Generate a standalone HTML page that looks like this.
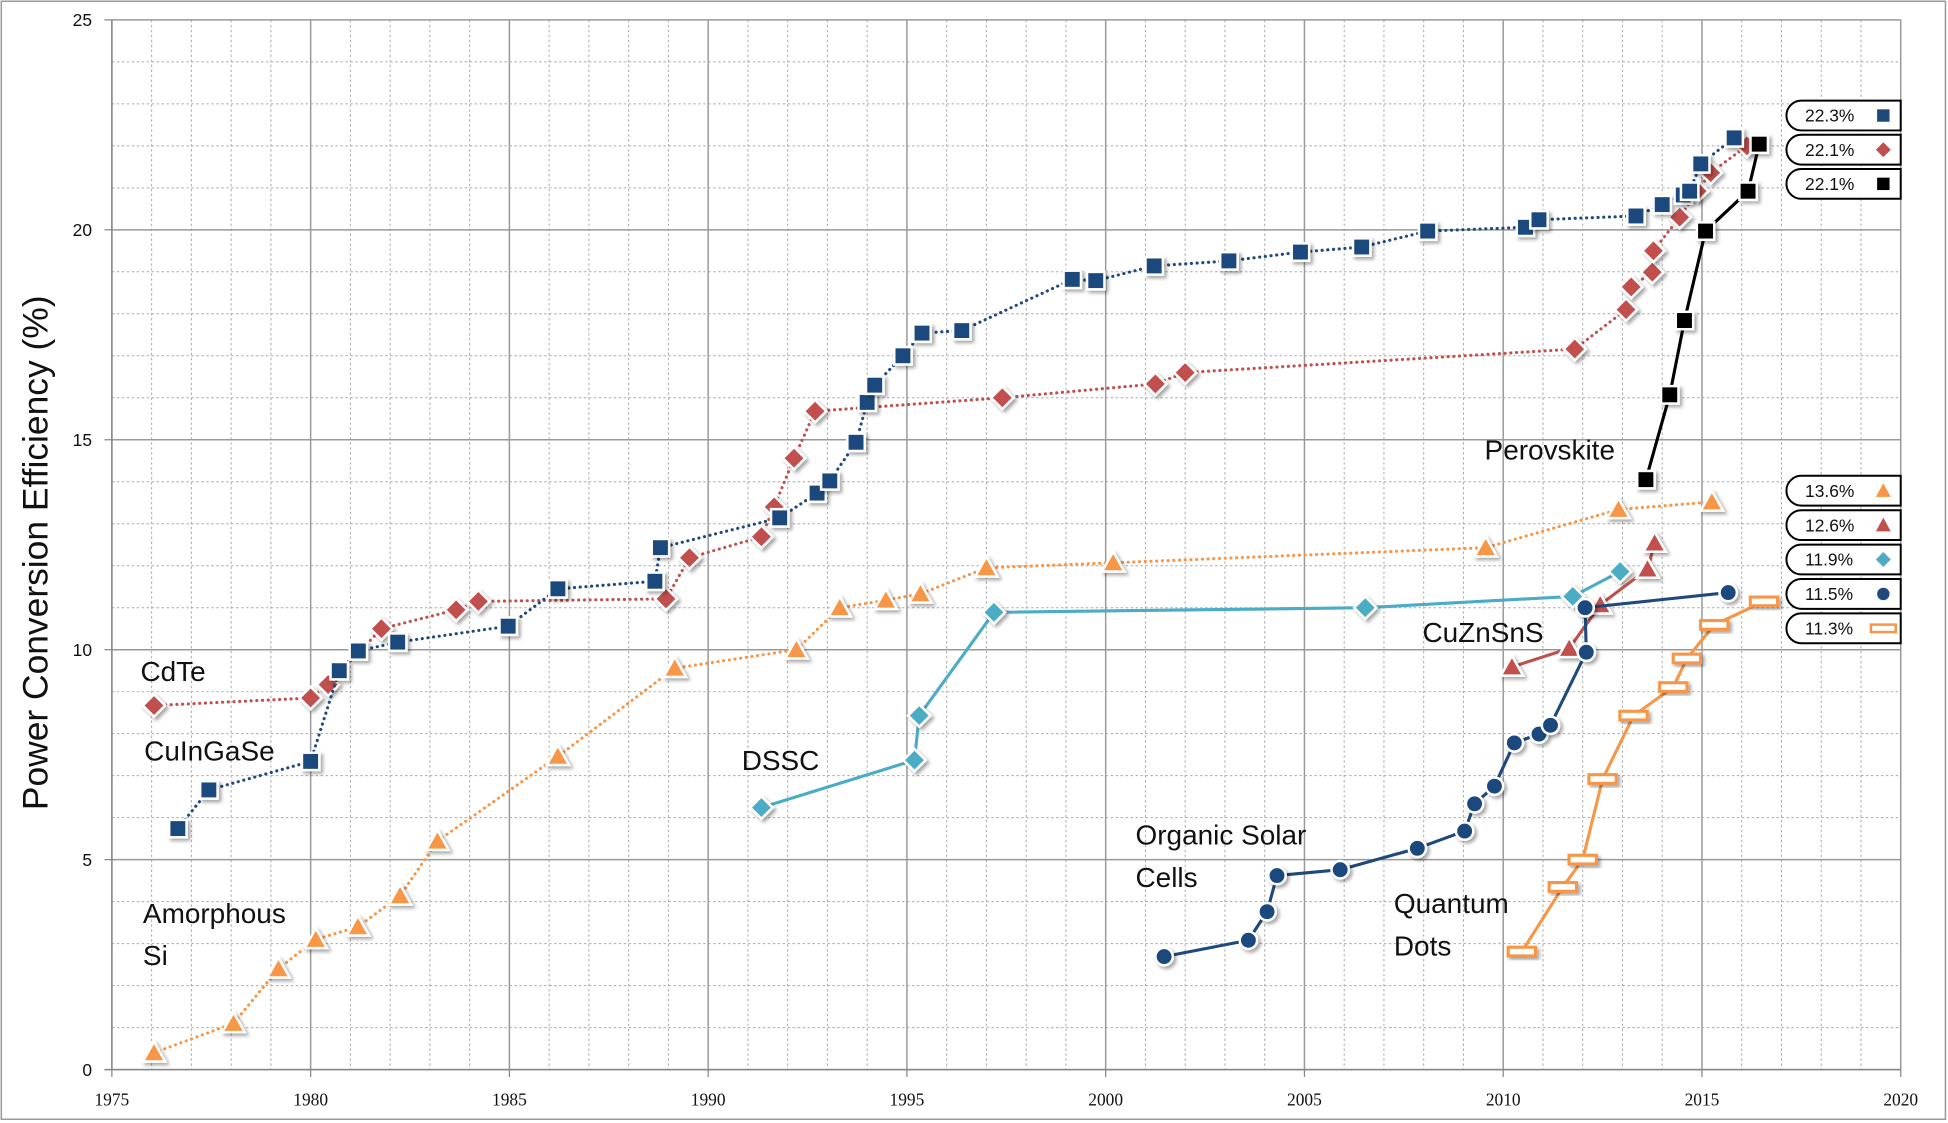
<!DOCTYPE html>
<html><head><meta charset="utf-8"><style>
html,body{margin:0;padding:0;background:#fff;}
svg{display:block;font-family:"Liberation Sans",sans-serif;}
</style></head><body>
<svg id="chart" width="1948" height="1123" viewBox="0 0 1568 904" xmlns="http://www.w3.org/2000/svg">
<defs><filter id="sh" x="-50%" y="-50%" width="200%" height="200%"><feDropShadow dx="2" dy="2" stdDeviation="1.5" flood-color="#000" flood-opacity="0.35"/></filter></defs>
<rect x="1" y="1" width="1565" height="900" fill="#fff" stroke="#999" stroke-width="1.2"/>
<g id="grid"></g>
<g id="axes"></g>
<g id="series"></g>
<g id="labels" font-size="22.5" fill="#111">
<text x="113" y="548">CdTe</text>
<text x="116" y="612">CuInGaSe</text>
<text x="115" y="743">Amorphous</text>
<text x="115" y="777">Si</text>
<text x="597" y="620">DSSC</text>
<text x="914" y="680">Organic Solar</text>
<text x="914" y="714">Cells</text>
<text x="1122" y="735">Quantum</text>
<text x="1122" y="769">Dots</text>
<text x="1145" y="517">CuZnSnS</text>
<text x="1195" y="370">Perovskite</text>
</g>
<text transform="translate(38,445) rotate(-90)" text-anchor="middle" font-size="28.5" fill="#111">Power Conversion Efficiency (%)</text>
<g id="legend"></g>
</svg>
<script>
const cigsX=[1976.66,1977.44,1980.0,1980.72,1981.2,1982.19,1984.97,1986.22,1988.66,1988.8,1991.8,1992.74,1993.06,1993.72,1994.0,1994.19,1994.9,1995.38,1996.38,1999.16,1999.75,2001.22,2003.1,2004.9,2006.44,2008.1,2010.56,2010.9,2013.34,2014.0,2014.53,2014.69,2014.97,2015.81];
const cigsY=[5.74,6.66,7.34,9.5,9.97,10.18,10.56,11.45,11.63,12.43,13.14,13.73,14.02,14.94,15.89,16.3,17.0,17.54,17.6,18.82,18.79,19.14,19.26,19.47,19.59,19.97,20.06,20.24,20.33,20.6,20.83,20.92,21.57,22.19];
const cdteX=[1976.06,1980.0,1980.44,1981.78,1983.66,1984.22,1988.94,1989.53,1991.34,1991.66,1992.16,1992.69,1997.4,2001.25,2002.0,2011.8,2013.09,2013.22,2013.75,2013.78,2014.44,2014.88,2015.22,2016.13];
const cdteY=[8.67,8.85,9.17,10.5,10.95,11.15,11.21,12.19,12.69,13.4,14.56,15.68,16.0,16.33,16.6,17.16,18.1,18.64,18.99,19.5,20.3,20.92,21.36,22.0];
const perovX=[2013.59,2014.19,2014.56,2015.09,2016.16,2016.44];
const perovY=[14.05,16.07,17.84,19.97,20.92,22.04];
const asiX=[1976.06,1978.06,1979.19,1980.13,1981.19,1982.25,1983.19,1986.22,1989.16,1992.22,1993.31,1994.47,1995.34,1997.0,2000.19,2009.56,2012.9,2015.25];
const asiY=[0.4,1.1,2.4,3.1,3.4,4.14,5.44,7.46,9.56,10.0,11.0,11.18,11.33,11.95,12.07,12.43,13.34,13.52];
const dsscX=[1991.34,1995.19,1995.31,1997.19,2006.53,2011.75,2012.94];
const dsscY=[6.24,7.37,8.43,10.89,11.0,11.27,11.86];
const cztsX=[2010.22,2011.66,2012.44,2013.63,2013.81];
const cztsY=[9.59,10.03,11.07,11.92,12.54];
const opvX=[2001.47,2003.59,2004.06,2004.31,2005.9,2007.84,2009.03,2009.28,2009.78,2010.28,2010.9,2011.19,2012.09,2012.06,2015.66];
const opvY=[2.69,3.08,3.76,4.62,4.76,5.27,5.68,6.33,6.75,7.78,7.99,8.2,9.94,11.0,11.36];
const qdX=[2010.47,2011.5,2012.0,2012.5,2013.28,2014.28,2014.62,2015.31,2016.56];
const qdY=[2.81,4.35,5.0,6.92,8.43,9.11,9.79,10.59,11.15];
const xTicks=[1975,1980,1985,1990,1995,2000,2005,2010,2015,2020];
const yTicks=[0,5,10,15,20,25];
const legendTop=["22.3%","22.1%","22.1%"];
const legendBottom=["13.6%","12.6%","11.9%","11.5%","11.3%"];

const NS="http://www.w3.org/2000/svg";
const X0=90,X1=1530,Y0=861,Y1=16;
const sx=v=>X0+(v-1975)/45*(X1-X0);
const sy=v=>Y0-(v/25)*(Y0-Y1);
function mk(tag,attrs,parent){const e=document.createElementNS(NS,tag);for(const k in attrs)e.setAttribute(k,attrs[k]);parent.appendChild(e);return e;}
const grid=document.getElementById('grid'),axes=document.getElementById('axes'),ser=document.getElementById('series'),leg=document.getElementById('legend');
for(let yr=1975;yr<=2020;yr++){const x=sx(yr);const maj=yr%5===0;
 const l=mk('line',{x1:x,x2:x,y1:Y1,y2:Y0,stroke:maj?'#999':'#aaa','stroke-width':maj?1.2:0.8},grid);
 if(!maj)l.setAttribute('stroke-dasharray','2,2');
 
 }
for(let v=0;v<=25;v++){const y=sy(v);const maj=v%5===0;
 const l=mk('line',{x1:X0,x2:X1,y1:y,y2:y,stroke:maj?'#999':'#aaa','stroke-width':maj?1.2:0.8},grid);
 if(!maj)l.setAttribute('stroke-dasharray','2,2');
 
 }
mk('line',{x1:X0,x2:X0,y1:Y1,y2:Y0,stroke:'#888','stroke-width':1.2},axes);
mk('line',{x1:X0-6,x2:X1,y1:Y0,y2:Y0,stroke:'#888','stroke-width':1.2},axes);
xTicks.forEach(t=>{mk('line',{x1:sx(t),x2:sx(t),y1:Y0,y2:Y0+6,stroke:'#888'},axes);
 const tx=mk('text',{x:sx(t),y:Y0+29,'text-anchor':'middle','font-size':14,fill:'#111','font-family':'Liberation Serif, serif'},axes);tx.textContent=t;
 
 });
yTicks.forEach(t=>{mk('line',{x1:X0-6,x2:X0,y1:sy(t),y2:sy(t),stroke:'#888'},axes);
 const tx=mk('text',{x:X0-16,y:sy(t)+5,'text-anchor':'end','font-size':14,fill:'#111'},axes);tx.textContent=t;
 
 });

function marker(shape,cx,cy,color,parent){
 let e;
 if(shape==='sq')e=mk('rect',{x:cx-7,y:cy-7,width:14,height:14,fill:color,stroke:'#fff','stroke-width':2},parent);
 else if(shape==='dia')e=mk('polygon',{points:`${cx},${cy-9} ${cx+9},${cy} ${cx},${cy+9} ${cx-9},${cy}`,fill:color,stroke:'#fff','stroke-width':2},parent);
 else if(shape==='tri')e=mk('polygon',{points:`${cx},${cy-9} ${cx+9},${cy+7} ${cx-9},${cy+7}`,fill:color,stroke:'#fff','stroke-width':2},parent);
 else if(shape==='cir')e=mk('circle',{cx:cx,cy:cy,r:7,fill:color,stroke:'#fff','stroke-width':2},parent);
 else e=mk('rect',{x:cx-11,y:cy-3.5,width:22,height:7,fill:'#fff',stroke:color,'stroke-width':2.5},parent);
 e.setAttribute('filter','url(#sh)');
 return e;}
function series(name,xs,ys,color,shape,dotted,w){
 const g=mk('g',{},ser);
 
 
 const pts=xs.map((x,i)=>sx(x)+','+sy(ys[i])).join(' ');
 const pl=mk('polyline',{points:pts,fill:'none',stroke:color,'stroke-width':w,'stroke-linecap':'round'},g);
 if(dotted)pl.setAttribute('stroke-dasharray','0.1,4.5');
 
 
 xs.forEach((x,i)=>{const m=marker(shape,sx(x),sy(ys[i]),color,g);
  
  });}
series('asi-series',asiX,asiY,'#f79646','tri',true,2.5);
series('cdte-series',cdteX,cdteY,'#c0504d','dia',true,2.5);
series('cigs-series',cigsX,cigsY,'#1f497d','sq',true,2.5);
series('dssc-series',dsscX,dsscY,'#4bacc6','dia',false,2.5);
series('czts-series',cztsX,cztsY,'#c0504d','tri',false,2.5);
series('opv-series',opvX,opvY,'#1f497d','cir',false,2.5);
series('qd-series',qdX,qdY,'#f79646','bar',false,2.5);
series('perovskite-series',perovX,perovY,'#000','sq',false,2.5);

function legendBox(txt,cy,shape,color){
 const g=mk('g',{},leg);
 
 
 mk('path',{d:`M1450,${cy-12} H1530 V${cy+12} H1450 A12,12 0 0 1 1450,${cy-12} Z`,fill:'#fff',stroke:'#000','stroke-width':1.6},g);
 const t=mk('text',{x:1453,y:cy+5,'font-size':14,fill:'#111'},g);t.textContent=txt;
 const cx=1516;let e;
 if(shape==='sq')e=mk('rect',{x:cx-5,y:cy-5,width:10,height:10,fill:color},g);
 else if(shape==='dia')e=mk('polygon',{points:`${cx},${cy-6} ${cx+6},${cy} ${cx},${cy+6} ${cx-6},${cy}`,fill:color},g);
 else if(shape==='tri')e=mk('polygon',{points:`${cx},${cy-6} ${cx+6},${cy+5} ${cx-6},${cy+5}`,fill:color},g);
 else if(shape==='cir')e=mk('circle',{cx:cx,cy:cy,r:5,fill:color},g);
 else e=mk('rect',{x:cx-10,y:cy-3,width:20,height:6,fill:'#fff',stroke:color,'stroke-width':2},g);}
const topStyles=[['sq','#1f497d'],['dia','#c0504d'],['sq','#000']];
const botStyles=[['tri','#f79646'],['tri','#c0504d'],['dia','#4bacc6'],['cir','#1f497d'],['bar','#f79646']];
legendTop.forEach((t,i)=>legendBox(t,93+i*27.5,topStyles[i][0],topStyles[i][1]));
legendBottom.forEach((t,i)=>legendBox(t,395+i*27.7,botStyles[i][0],botStyles[i][1]));
</script>
</body></html>
